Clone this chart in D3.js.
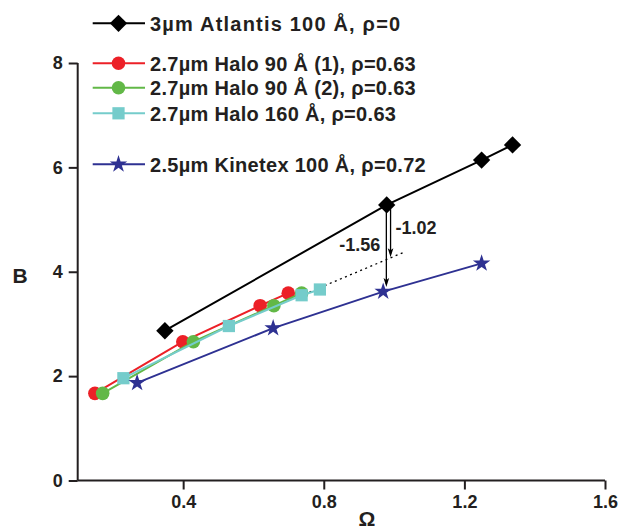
<!DOCTYPE html>
<html>
<head>
<meta charset="utf-8">
<script src="https://cdn.jsdelivr.net/npm/d3@7"></script>
<style>
  body { margin: 0; background: #fff; }
  svg { display: block; font-family: Arial, "Liberation Sans", sans-serif; font-weight: bold; }
</style>
</head>
<body>
<div id="chart"></div>
<script>
// values
const seriesNames = ['3\u00b5m Atlantis 100 \u00c5, \u03c1=0',
                     '2.7\u00b5m Halo 90 \u00c5 (1), \u03c1=0.63',
                     '2.7\u00b5m Halo 90 \u00c5 (2), \u03c1=0.63',
                     '2.7\u00b5m Halo 160 \u00c5, \u03c1=0.63',
                     '2.5\u00b5m Kinetex 100 \u00c5, \u03c1=0.72'];
const seriesColors = ['#000000', '#ec2027', '#62b847', '#75cccb', '#2e3192'];
const seriesSymbols = ['diamond', 'circle', 'circle', 'square', 'star'];

const omegaAtlantis = [0.348, 0.979, 1.249, 1.337];
const bAtlantis     = [2.87, 5.28, 6.14, 6.43];
const omegaHalo1    = [0.149, 0.399, 0.619, 0.699];
const bHalo1        = [1.67, 2.66, 3.35, 3.59];
const omegaHalo2    = [0.171, 0.429, 0.658, 0.737];
const bHalo2        = [1.67, 2.66, 3.35, 3.59];
const omegaHalo160  = [0.230, 0.530, 0.737, 0.789];
const bHalo160      = [1.96, 2.96, 3.55, 3.66];
const omegaKinetex  = [0.269, 0.656, 0.969, 1.249];
const bKinetex      = [1.87, 2.92, 3.62, 4.16];

// dotted extrapolation of the Halo 160 line
const dottedOmega = [0.745, 1.03];
const dottedB     = [3.57, 4.38];

// arrows: omega, from B, to B, label
const arrowOmega = [0.99, 0.978];
const arrowFrom  = [5.20, 5.28];
const arrowTo    = [4.28, 3.71];
const arrowText  = ['-1.02', '-1.56'];

const xMajor = [0.4, 0.8, 1.2, 1.6];
const xMinor = [0.2, 0.6, 1.0, 1.4];
const yMajor = [0, 2, 4, 6, 8];
const yMinor = [1, 3, 5, 7];

const W = 621, H = 532;
const axisColor = '#231f20';

const svg = d3.select('#chart').append('svg')
  .attr('width', W).attr('height', H);

const x = d3.scaleLinear().domain([0.1, 1.6]).range([77.7, 605]);
const y = d3.scaleLinear().domain([0, 8]).range([480.5, 63]);

// axes
const gx = svg.append('g').attr('transform', 'translate(0,' + y(0) + ')');
gx.call(d3.axisBottom(x).tickValues(xMinor).tickSize(5).tickFormat(''));
gx.call(d3.axisBottom(x).tickValues(xMajor).tickSize(9).tickPadding(6).tickFormat(d3.format('.1f')));
gx.selectAll('path.domain').attr('d', 'M' + x(0.1) + ',0H' + x(1.6));

const gy = svg.append('g').attr('transform', 'translate(' + x(0.1) + ',0)');
gy.call(d3.axisLeft(y).tickValues(yMinor).tickSize(5).tickFormat(''));
gy.call(d3.axisLeft(y).tickValues(yMajor).tickSize(9).tickPadding(6).tickFormat(d3.format('d')));
gy.selectAll('path.domain').attr('d', 'M0,' + y(8) + 'V' + y(0));

svg.selectAll('.domain, .tick line')
  .attr('stroke', axisColor).attr('stroke-width', 2);
svg.selectAll('.tick text')
  .attr('fill', axisColor)
  .style('font-size', '18px').style('font-weight', 'bold')
  .style('font-family', 'Arial, "Liberation Sans", sans-serif');

// axis titles
svg.append('text').attr('x', 20).attr('y', 283).attr('text-anchor', 'middle')
  .style('font-size', '21px').attr('fill', axisColor).text('B');
svg.append('text').attr('x', 367).attr('y', 526).attr('text-anchor', 'middle')
  .style('font-size', '21px').attr('fill', axisColor).text('\u03a9');

// series
const seriesX = [omegaAtlantis, omegaHalo1, omegaHalo2, omegaHalo160, omegaKinetex];
const seriesY = [bAtlantis, bHalo1, bHalo2, bHalo160, bKinetex];
const series = seriesNames.map((name, i) => ({
  name: name, color: seriesColors[i], symbol: seriesSymbols[i],
  points: seriesX[i].map((v, j) => [v, seriesY[i][j]])
}));

const symbolPath = {
  diamond: d3.symbol(d3.symbolSquare, 150)(),
  circle: d3.symbol(d3.symbolCircle, 145)(),
  square: d3.symbol(d3.symbolSquare, 150)(),
  star: d3.symbol(d3.symbolStar, 95)()
};
const symbolRotate = { diamond: 45, circle: 0, square: 0, star: 0 };

function drawMarker(g, s, px, py) {
  g.append('path')
    .attr('d', symbolPath[s.symbol])
    .attr('transform', 'translate(' + px + ',' + py + ') rotate(' + symbolRotate[s.symbol] + ')')
    .attr('fill', s.color);
}

const line = d3.line().x(d => x(d[0])).y(d => y(d[1]));

// dotted extrapolation
svg.append('path')
  .attr('d', line(dottedOmega.map((v, i) => [v, dottedB[i]])))
  .attr('fill', 'none').attr('stroke', '#000').attr('stroke-width', 1.3)
  .attr('stroke-dasharray', '2,3.5');

series.forEach(s => {
  const g = svg.append('g');
  g.append('path').attr('d', line(s.points))
    .attr('fill', 'none').attr('stroke', s.color).attr('stroke-width', 2);
  s.points.forEach(p => drawMarker(g, s, x(p[0]), y(p[1])));
});

// arrows
arrowOmega.forEach((v, i) => {
  const ax = x(v), y0 = y(arrowFrom[i]), y1 = y(arrowTo[i]);
  svg.append('line').attr('x1', ax).attr('x2', ax).attr('y1', y0).attr('y2', y1 - 3)
    .attr('stroke', '#000').attr('stroke-width', 1.3);
  svg.append('path')
    .attr('d', 'M' + ax + ',' + y1 + 'L' + (ax - 2.8) + ',' + (y1 - 9) + 'L' + ax + ',' + (y1 - 7) + 'L' + (ax + 2.8) + ',' + (y1 - 9) + 'Z')
    .attr('fill', '#000');
  const mid = y((arrowFrom[i] + arrowTo[i]) / 2);
  svg.append('text')
    .attr('x', i === 0 ? ax + 5 : ax - 6)
    .attr('y', i === 0 ? mid + 1 : mid + 5)
    .attr('text-anchor', i === 0 ? 'start' : 'end')
    .style('font-size', '18px').attr('fill', axisColor)
    .text(arrowText[i]);
});

// legend
const legendY = [23.3, 63.3, 87.7, 113.3, 164.3];
series.forEach((s, i) => {
  const g = svg.append('g').attr('transform', 'translate(0,' + legendY[i] + ')');
  g.append('line').attr('x1', 92.7).attr('x2', 145).attr('y1', 0).attr('y2', 0)
    .attr('stroke', s.color).attr('stroke-width', 2);
  drawMarker(g, s, 118.5, 0);
  g.append('text').attr('x', 150).attr('y', 7.2)
    .style('font-size', '20px').style('letter-spacing', i === 0 ? '1.2px' : '0.3px')
    .attr('fill', axisColor)
    .text(s.name);
});
</script>
</body>
</html>
